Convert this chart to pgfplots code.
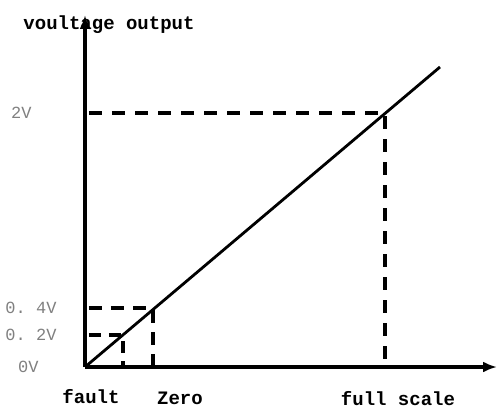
\documentclass[border=0pt]{standalone}
\usepackage{pgfplots}
\pgfplotsset{compat=1.18}
\usepackage{fontspec}
\setmainfont{Liberation Mono}
\usetikzlibrary{arrows.meta}
\begin{document}
\begin{tikzpicture}
\path[use as bounding box] (-85pt,-43pt) rectangle (412pt,367pt);
\begin{axis}[
  anchor=origin, at={(0pt,0pt)},
  x=1pt, y=1pt,
  xmin=0, xmax=412, ymin=0, ymax=352,
  axis lines=left,
  axis line style={line width=3.2pt, -{Latex[length=14pt,width=11pt]}},
  ticks=none,
  clip=false,
]
% main line
\addplot[black, line width=2.8pt] coordinates {(0,0) (355,300)};
% dashed guides
\addplot[black, line width=3.2pt, dash pattern=on 13pt off 10pt] coordinates {(4,254) (300,254) (300,0)};
\addplot[black, line width=3.2pt, dash pattern=on 13pt off 9pt] coordinates {(4,59) (68,59) (68,0)};
\addplot[black, line width=3.2pt, dash pattern=on 12pt off 8pt] coordinates {(4,32) (38,32) (38,0)};
% labels
\node[font=\fontsize{19}{20}\selectfont\bfseries, anchor=center] at (axis cs:24,342) {voultage output};
\node[font=\fontsize{17}{18}\selectfont, text=black!50, anchor=east] at (axis cs:-50,254) {2V};
\node[font=\fontsize{17}{18}\selectfont, text=black!50, anchor=east] at (axis cs:-25,59) {0.~4V};
\node[font=\fontsize{17}{18}\selectfont, text=black!50, anchor=east] at (axis cs:-25,32) {0.~2V};
\node[font=\fontsize{17}{18}\selectfont, text=black!50, anchor=east] at (axis cs:-43,0) {0V};
\node[font=\fontsize{19}{20}\selectfont\bfseries, anchor=center] at (axis cs:6,-30) {fault};
\node[font=\fontsize{19}{20}\selectfont\bfseries, anchor=center] at (axis cs:95,-31) {Zero};
\node[font=\fontsize{19}{20}\selectfont\bfseries, anchor=center] at (axis cs:313,-32) {full scale};
\end{axis}
\end{tikzpicture}
\end{document}
